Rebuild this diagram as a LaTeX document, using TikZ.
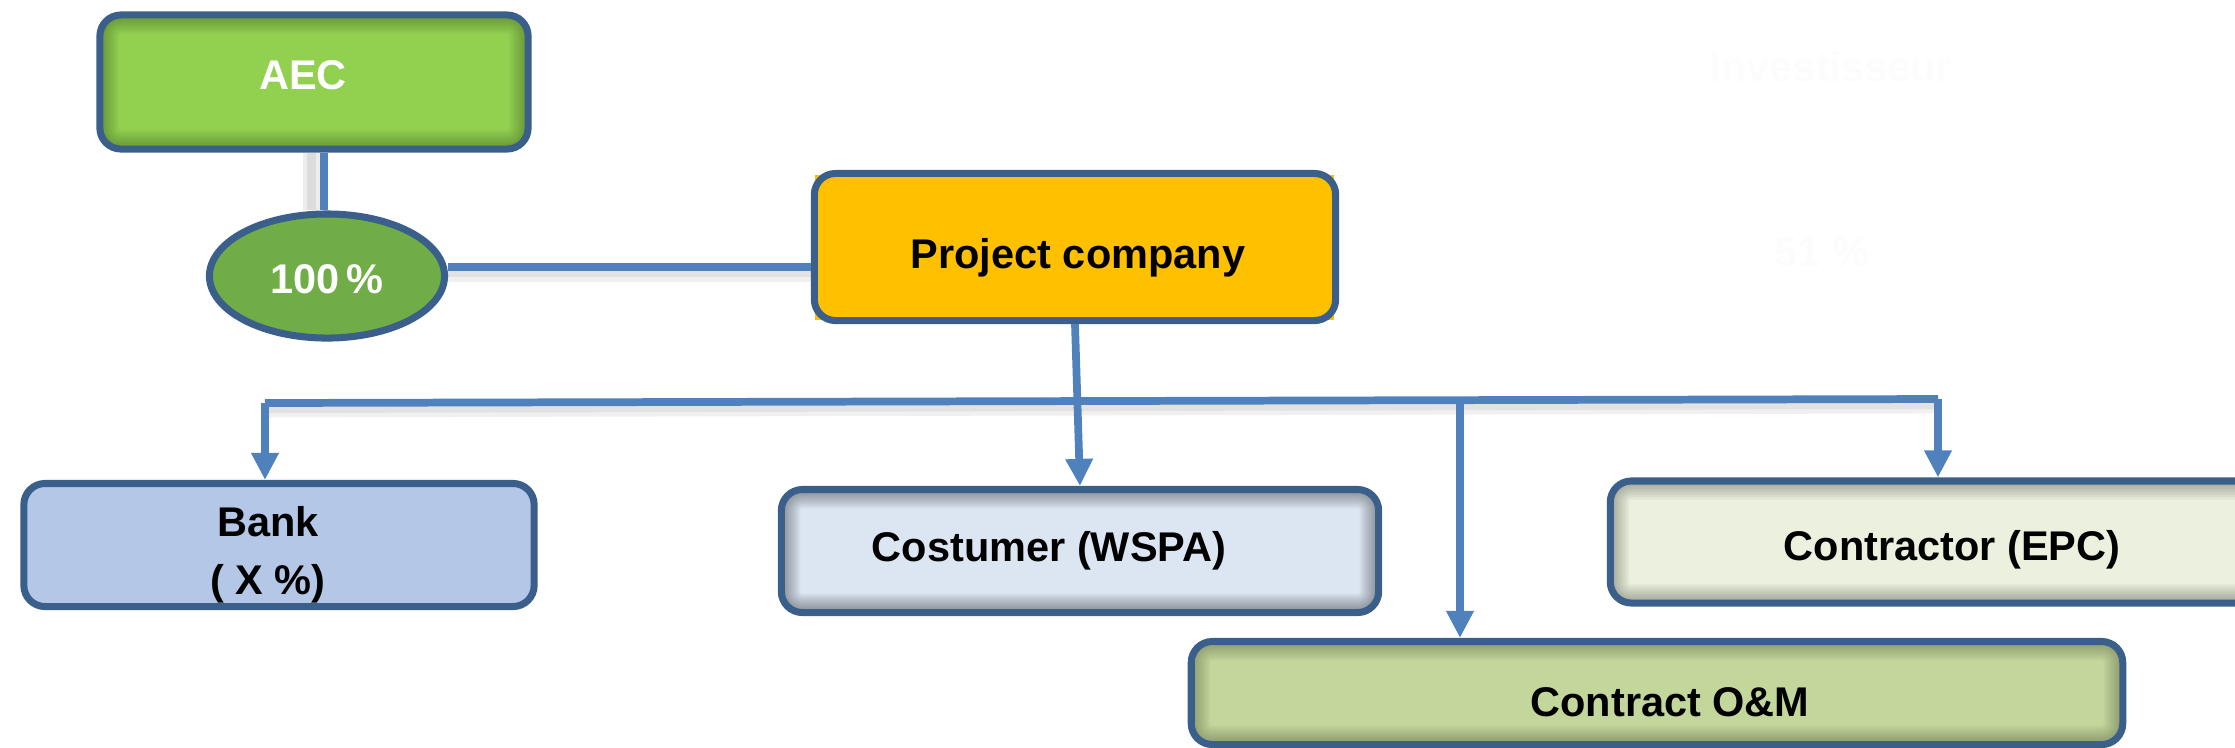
\documentclass[tikz,border=0pt]{standalone}
\usepackage{fontspec}
\setmainfont{Liberation Sans}
\usetikzlibrary{arrows.meta,shapes.geometric,calc}
\definecolor{bord}{HTML}{3A5F8B}
\definecolor{lineblue}{HTML}{4F81BD}
\definecolor{aecgreen}{HTML}{92D050}
\definecolor{ellgreen}{HTML}{70AD47}
\definecolor{projyellow}{HTML}{FFC000}
\definecolor{bankblue}{HTML}{B4C7E7}
\definecolor{costblue}{HTML}{DCE6F2}
\definecolor{epcgreen}{HTML}{EBF1DE}
\definecolor{omgreen}{HTML}{C3D69B}
\begin{document}
\begin{tikzpicture}[x=0.01cm,y=-0.01cm,
  box/.style={draw=bord, line width=2pt, rounded corners=6pt, inner sep=0pt},
  inshade/.style={path picture={
      \foreach \i in {1,...,12}{
        \draw[line width=\i*0.9pt, draw opacity=0.018*#1, black, rounded corners=6pt]
          (path picture bounding box.south west) rectangle (path picture bounding box.north east);}}},
  inshade/.default=1,
  lbl/.style={inner sep=0pt, font=\fontsize{11.8}{16.5}\selectfont\bfseries, align=center},
  conn/.style={draw=lineblue, line width=2.2pt},
  shd/.style={preaction={draw=black, draw opacity=0.06, line width=5pt, transform canvas={yshift=-1.6pt}},
              preaction={draw=black, draw opacity=0.06, line width=2.5pt, transform canvas={yshift=-1.6pt}}},
  vshd/.style={preaction={draw=black, draw opacity=0.07, line width=5pt, transform canvas={xshift=-3.5pt}},
               preaction={draw=black, draw opacity=0.07, line width=2.5pt, transform canvas={xshift=-3.5pt}}},
  arr/.style={conn, -{Triangle[width=7.4pt,length=7.7pt]}},
]
\useasboundingbox (0,0) rectangle (2235,747);

% faint texts
\node[lbl, text=white!99!black] (inv) at (1831,67) {Investisseur};
\node[lbl, text=white!99!black] (pct51) at (1822,252) {51 \%};

\coordinate (aecstem) at (324,149);

% boxes
\node[box, fill=aecgreen, inshade=1.4, minimum width=4.28cm, minimum height=1.34cm] (aec) at (314,82) {};
\node[lbl, text=white] (aect) at (303,75) {AEC};

\node[ellipse, draw=bord, line width=2pt, fill=ellgreen, minimum width=2.35cm, minimum height=1.24cm, inner sep=0pt] (ell) at (327,276) {};
\node[lbl, text=white] (ellt) at (327,279) {100\,\%};

\fill[projyellow] (815,175) rectangle (1334,320);
\node[box, fill=projyellow, minimum width=5.21cm, minimum height=1.47cm] (proj) at (1075,247) {};
\node[lbl] (projt) at (1078,258) {Project company};

\node[box, fill=bankblue, minimum width=5.10cm, minimum height=1.23cm] (bank) at (279,545) {};
\node[lbl] (bankt) at (268,555) {Bank\\( X \%)};

\node[box, fill=costblue, inshade=2, minimum width=5.97cm, minimum height=1.23cm] (cost) at (1080,551) {};
\node[lbl] (costt) at (1049,551) {Costumer (WSPA)};

\node[box, fill=epcgreen, inshade=1.5, minimum width=6.89cm, minimum height=1.22cm] (epc) at (1955,542) {};
\node[lbl] (epct) at (1952,550) {Contractor (EPC)};

\node[box, fill=omgreen, inshade=1.4, minimum width=9.31cm, minimum height=1.03cm] (om) at (1657,693) {};
\node[lbl] (omt) at (1670,702) {Contract O\&M};

% connectors
\draw[conn, vshd] (ell.north -| aecstem) -- (aecstem |- aec.south);
\draw[conn, shd] ([yshift=2.5pt]ell.east) -- ([yshift=2.5pt]proj.west |- ell.east);
\coordinate (busL) at (265,403);
\coordinate (busR) at (1938,399);
\coordinate (busM) at (1460,401);
\draw[conn, shd] (busL) -- (busR);
\draw[arr] (proj.south) -- (cost.north);
\draw[arr] (busL) -- (busL |- bank.north);
\draw[arr] (busM) -- (busM |- om.north);
\draw[arr] (busR) -- (busR |- epc.north);
\end{tikzpicture}
\end{document}
